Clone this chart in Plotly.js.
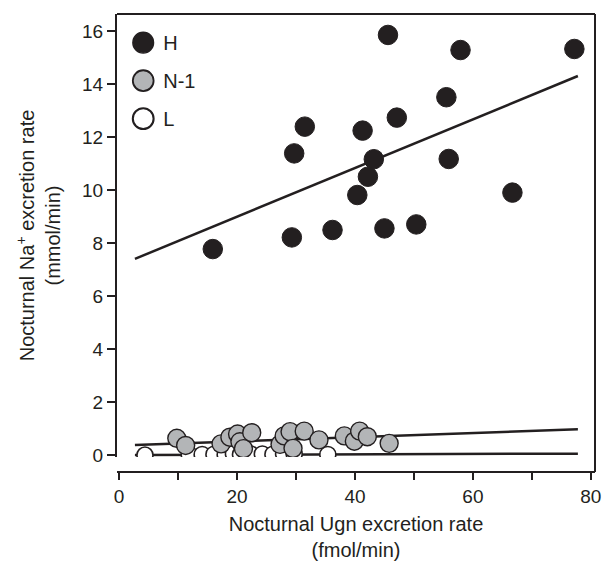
<!DOCTYPE html>
<html>
<head>
<meta charset="utf-8">
<script src="https://cdn.plot.ly/plotly-3.0.1.min.js"></script>
<style>
html,body{margin:0;padding:0;background:#fff;}
#chart{width:603px;height:567px;}
#chart .legend .legendpoints path.scatterpts{transform:translate(20px,0px) scale(1.3);}
</style>
</head>
<body>
<div id="chart"></div>
<script>
// H group
var hX = [45.6, 57.9, 77.2, 55.5, 47.1, 31.5, 41.3, 29.7, 43.2, 55.9, 42.2, 40.4, 66.7, 15.9, 29.3, 36.2, 45.0, 50.4];
var hY = [15.85, 15.28, 15.32, 13.5, 12.73, 12.39, 12.24, 11.38, 11.16, 11.17, 10.5, 9.81, 9.9, 7.77, 8.21, 8.49, 8.55, 8.7];
// N-1 group
var nX = [9.8, 11.3, 17.3, 18.8, 20.1, 20.5, 21.1, 22.5, 27.3, 28.0, 29.0, 29.5, 31.4, 33.9, 38.2, 39.9, 40.8, 42.1, 45.8];
var nY = [0.63, 0.36, 0.42, 0.67, 0.79, 0.5, 0.24, 0.84, 0.4, 0.72, 0.88, 0.25, 0.9, 0.57, 0.72, 0.52, 0.9, 0.69, 0.44];
// L group
var lX = [4.4, 11.9, 14.1, 16.1, 18.0, 19.4, 20.6, 22.3, 24.3, 26.1, 27.9, 29.7, 35.4];
var lY = [0.0, 0.02, 0.02, 0.03, 0.02, 0.05, 0.03, 0.04, 0.04, 0.03, 0.05, 0.04, 0.02];
// regression lines (end points)
var fitX = [2.7, 77.8];
var fitH = [7.4, 14.3];
var fitN = [0.38, 0.97];
var fitL = [0.0, 0.05];
// ticks
var xTickVals = [0, 20, 40, 60, 80];
var yTickVals = [0, 2, 4, 6, 8, 10, 12, 14, 16];

var ink = '#231f20';
var fnt = 'Liberation Sans, Arial, sans-serif';

function fitTrace(y) {
  return {x: fitX, y: y, mode: 'lines', type: 'scatter', showlegend: false,
    line: {color: ink, width: 2.5}, hoverinfo: 'skip'};
}

var data = [
  fitTrace(fitL),
  fitTrace(fitN),
  fitTrace(fitH),
  {x: lX, y: lY, name: 'L', legendgroup: 'c', legendrank: 3, mode: 'markers', type: 'scatter',
   marker: {color: '#ffffff', size: 16, line: {color: ink, width: 1.6}}},
  {x: nX, y: nY, name: 'N-1', legendgroup: 'b', legendrank: 2, mode: 'markers', type: 'scatter',
   marker: {color: '#b3b5b7', size: 18, line: {color: ink, width: 1.4}}},
  {x: hX, y: hY, name: 'H', legendgroup: 'a', legendrank: 1, mode: 'markers', type: 'scatter',
   marker: {color: ink, size: 19.5, line: {color: ink, width: 1}}}
];

var layout = {
  width: 603, height: 567,
  margin: {l: 117, r: 8, t: 14, b: 95},
  paper_bgcolor: '#fff', plot_bgcolor: '#fff',
  font: {family: fnt, color: ink, size: 19},
  showlegend: true,
  legend: {x: 0.013, y: 0.98, xanchor: 'left', yanchor: 'top', traceorder: 'grouped',
    font: {family: fnt, size: 20, color: ink}, tracegroupgap: 9, bgcolor: 'rgba(0,0,0,0)'},
  xaxis: {
    range: [-0.34, 80.7], anchor: 'free', position: 0,
    tickvals: xTickVals,
    ticks: 'outside', ticklen: 7, tickwidth: 2, tickcolor: ink,
    minor: {dtick: 10, ticks: 'outside', ticklen: 7, tickwidth: 2, tickcolor: ink, showgrid: false},
    showline: true, linewidth: 2, linecolor: ink,
    showgrid: false, zeroline: false,
    tickfont: {family: fnt, size: 19, color: ink},
    title: {text: 'Nocturnal Ugn excretion rate<br>(fmol/min)', font: {family: fnt, size: 20, color: ink}, standoff: 10}
  },
  yaxis: {
    range: [-0.075, 16.64], domain: [0.0328, 1],
    tickvals: yTickVals,
    ticks: 'outside', ticklen: 8, tickwidth: 2, tickcolor: ink,
    showline: true, linewidth: 2, linecolor: ink,
    showgrid: false, zeroline: false,
    tickfont: {family: fnt, size: 19, color: ink},
    title: {text: 'Nocturnal Na<sup>+</sup> excretion rate<br>(mmol/min)', font: {family: fnt, size: 20, color: ink}, standoff: 16}
  },
  shapes: [
    {type: 'line', xref: 'paper', yref: 'paper', x0: 0, x1: 1, y0: 1, y1: 1, line: {color: ink, width: 2}},
    {type: 'line', xref: 'paper', yref: 'paper', x0: 1, x1: 1, y0: 0, y1: 1, line: {color: ink, width: 2}}
  ]
};

Plotly.newPlot('chart', data, layout, {displayModeBar: false, staticPlot: true});
</script>
</body>
</html>
